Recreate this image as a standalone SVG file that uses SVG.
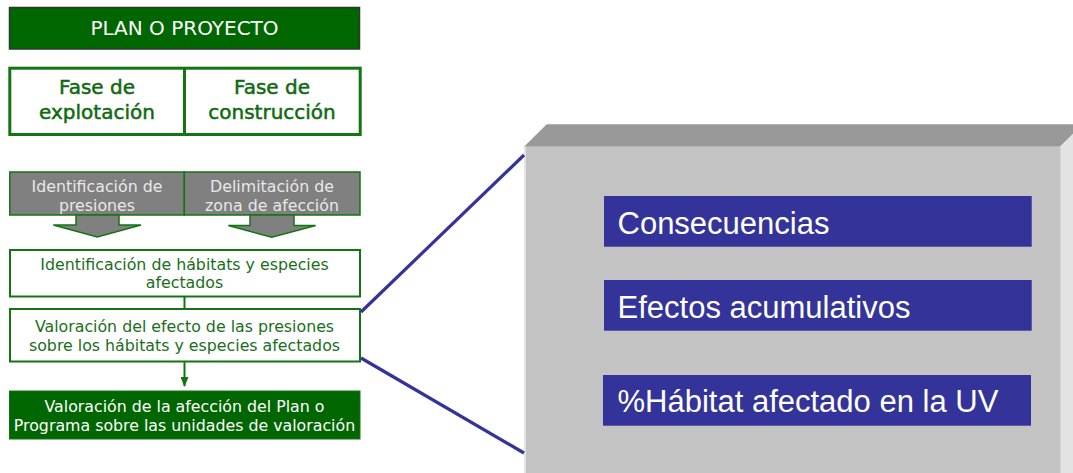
<svg xmlns="http://www.w3.org/2000/svg" width="1073" height="473" viewBox="0 0 1073 473">
<style>
.v{font-family:"DejaVu Sans","Liberation Sans",sans-serif;text-anchor:middle}
.wt{fill:#ffffff}
.gt{fill:#1a6e1a}
.ft{fill:#0f6a0f;stroke:#0f6a0f;stroke-width:0.5}
.lg{fill:#e8e8e8}
.bx{fill:#ffffff;stroke:#127512;stroke-width:2}
.gb{fill:#808080;stroke:#127512;stroke-width:1.5}
.bl{fill:#333399}
.bt{font-family:"Liberation Sans",Arial,sans-serif;font-size:31px;fill:#ffffff}
</style>
<defs>
<marker id="ah" markerWidth="10" markerHeight="8" refX="9" refY="4" orient="auto" markerUnits="userSpaceOnUse">
<path d="M0,0 L10,4 L0,8 Z" fill="#127512"/>
</marker>
</defs>
<rect width="1073" height="473" fill="#ffffff"/>

<g id="plan">
<rect x="9.5" y="7.5" width="350" height="41.5" fill="#006600" stroke="#2a3a2a" stroke-width="1.5"/>
<text class="v wt" x="184.5" y="35" font-size="20">PLAN O PROYECTO</text>
</g>

<g id="fases">
<rect x="9.8" y="68.2" width="350.4" height="66.3" fill="#ffffff" stroke="#127512" stroke-width="3"/>
<line x1="184.5" y1="68" x2="184.5" y2="135" stroke="#127512" stroke-width="3"/>
<text class="v ft" x="97" y="94.3" font-size="20">Fase de</text>
<text class="v ft" x="97" y="119" font-size="20">explotación</text>
<text class="v ft" x="272" y="94.3" font-size="20">Fase de</text>
<text class="v ft" x="272" y="119" font-size="20">construcción</text>
</g>

<g id="presiones">
<rect class="gb" x="9.8" y="172" width="174.5" height="43"/>
<text class="v lg" x="97" y="191.7" font-size="15.8">Identificación de</text>
<text class="v lg" x="97" y="210.5" font-size="15.8">presiones</text>
</g>
<g id="zona">
<rect class="gb" x="184.3" y="172" width="175.7" height="43"/>
<text class="v lg" x="272" y="191.7" font-size="15.8">Delimitación de</text>
<text class="v lg" x="272" y="210.5" font-size="15.8">zona de afección</text>
</g>

<g id="habitats">
<rect class="bx" x="10" y="250" width="350" height="46.5"/>
<text class="v gt" x="184.5" y="270" font-size="15.8">Identificación de hábitats y especies</text>
<text class="v gt" x="184.5" y="288.3" font-size="15.8">afectados</text>
</g>

<g id="valoracion">
<rect class="bx" x="10" y="309" width="350" height="52.5"/>
<text class="v gt" x="184.5" y="331.7" font-size="15.8">Valoración del efecto de las presiones</text>
<text class="v gt" x="184.5" y="350.7" font-size="15.8">sobre los hábitats y especies afectados</text>
</g>

<g id="afeccion">
<rect x="9.5" y="391" width="350.5" height="48" fill="#006600" stroke="#127512" stroke-width="1"/>
<text class="v wt" x="184.5" y="411.7" font-size="15.8">Valoración de la afección del Plan o</text>
<text class="v wt" x="184.5" y="430.7" font-size="15.8">Programa sobre las unidades de valoración</text>
</g>

<g id="panel">
<polygon points="524,146.7 546.7,124.3 1083,124.3 1060,146.7" fill="#999999"/>
<polygon points="1060,146.7 1083,124.3 1083,473 1060,473" fill="#e3e3e3"/>
<rect x="524" y="146.7" width="536" height="340" fill="#c3c3c3"/>
<line x1="525" y1="147" x2="525" y2="473" stroke="#e4e4e4" stroke-width="2"/>
<line x1="1060.5" y1="147" x2="1060.5" y2="473" stroke="#d6d6d6" stroke-width="1"/>
</g>

<g id="consecuencias">
<rect class="bl" x="604" y="196" width="427.7" height="50.7"/>
<text class="bt" x="617.5" y="233.5">Consecuencias</text>
</g>
<g id="acumulativos">
<rect class="bl" x="604" y="280" width="427.7" height="50.7"/>
<text class="bt" x="617.5" y="317.7">Efectos acumulativos</text>
</g>
<g id="porcentaje">
<rect class="bl" x="603" y="375" width="428" height="50.7"/>
<text class="bt" x="617.5" y="412">%Hábitat afectado en la UV</text>
</g>

<g id="connectors">
<polygon class="gb" points="76,215 119,215 119,225 141,225 97.3,237 53.3,225 76,225"/>
<polygon class="gb" points="250,215 294,215 294,225.5 315.7,225.5 271.7,237.3 228.3,225.5 250,225.5"/>
<line x1="184.5" y1="297" x2="184.5" y2="308" stroke="#127512" stroke-width="2"/>
<line x1="184.5" y1="362" x2="184.5" y2="386" stroke="#127512" stroke-width="2" marker-end="url(#ah)"/>
<line x1="361" y1="312" x2="524" y2="155" stroke="#333399" stroke-width="3.2"/>
<line x1="361" y1="358" x2="524" y2="453" stroke="#333399" stroke-width="3.2"/>
</g>
</svg>
